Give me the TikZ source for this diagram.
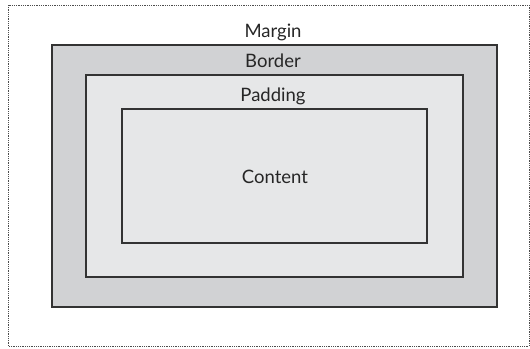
\documentclass[tikz,border=0pt]{standalone}
\usepackage{fontspec}
\setmainfont{Lato}
\definecolor{bordfill}{HTML}{D1D2D4}
\definecolor{padfill}{HTML}{E6E7E8}
\definecolor{edge}{HTML}{333333}
\begin{document}
\begin{tikzpicture}[x=1pt,y=-1pt,
  box/.style={draw=edge,line width=1.1pt},
  lbl/.style={font=\fontsize{18.5}{22}\selectfont,text=black!85,inner sep=0pt,anchor=base}]
\useasboundingbox (0,0) rectangle (530,348);
\draw[densely dotted,line width=0.8pt,draw=black!70] (8,5) rectangle (529,346);
\draw[box,fill=bordfill] (52,45) rectangle (497,307);
\draw[box,fill=padfill] (86,75) rectangle (463,277);
\draw[box,fill=padfill] (122,109) rectangle (427,243);
\node[lbl] (margin) at (273,37) {Margin};
\node[lbl] (border) at (273,67) {Border};
\node[lbl] (padding) at (273,101) {Padding};
\node[lbl] (content) at (275,183) {Content};
\end{tikzpicture}
\end{document}
